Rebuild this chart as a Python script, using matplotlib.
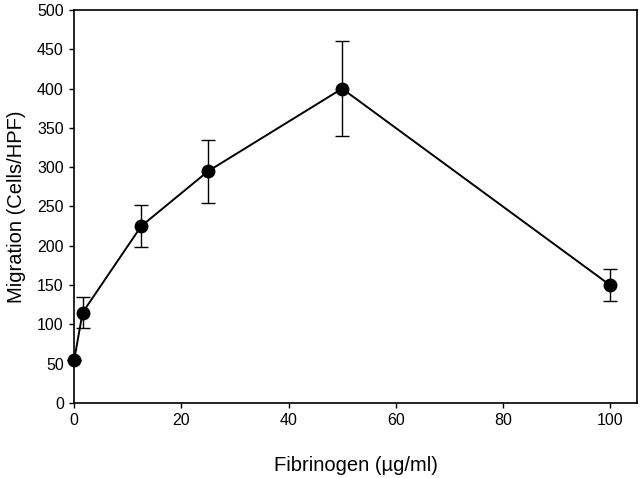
import matplotlib
matplotlib.use("Agg")
import matplotlib.pyplot as plt

fibrinogen = [0, 1.56, 12.5, 25, 50, 100]
migration = [55, 115, 225, 295, 400, 150]
err_low = [0, 20, 27, 40, 60, 20]
err_high = [0, 20, 27, 40, 60, 20]
xticks = [0, 20, 40, 60, 80, 100]
yticks = [0, 50, 100, 150, 200, 250, 300, 350, 400, 450, 500]

plt.rcParams['font.family'] = ['Liberation Sans', 'DejaVu Sans']

fig = plt.figure(figsize=(6.4, 4.78), dpi=100)
ax = fig.add_axes([0.116, 0.157, 0.879, 0.822])

lines = ax.errorbar(fibrinogen, migration, yerr=[err_low, err_high], fmt='-o', color='black',
                    markersize=9, linewidth=1.4, elinewidth=1.0, capsize=5, capthick=1.0)
for artist in lines.get_children():
    artist.set_clip_on(False)
lines[0].set_clip_on(False)

ax.set_xlim(0, 105)
ax.set_ylim(0, 500)
ax.set_xticks(xticks)
ax.set_yticks(yticks)
ax.tick_params(direction='out', length=3.5, width=1, labelsize=11.5, pad=4)
for s in ax.spines.values():
    s.set_linewidth(1.2)

ax.set_xlabel('Fibrinogen (\u00b5g/ml)', fontsize=14.5, labelpad=20)
ax.set_ylabel('Migration (Cells/HPF)', fontsize=14.5, labelpad=8)

fig.savefig('out.png', dpi=100)
